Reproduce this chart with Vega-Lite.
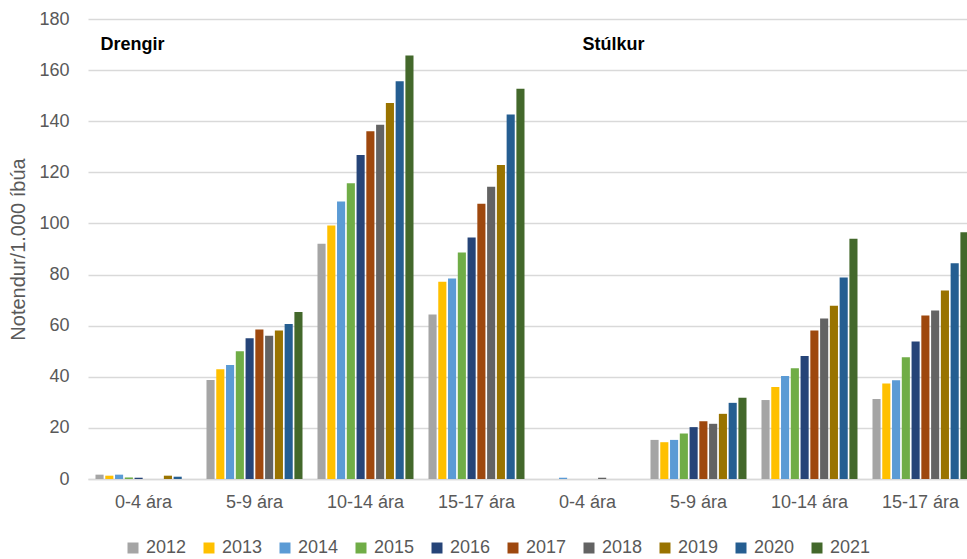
{
  "$schema": "https://vega.github.io/schema/vega-lite/v6.json",
  "autosize": "none",
  "width": 888,
  "height": 460,
  "padding": {"left": 88, "top": 19, "right": 0, "bottom": 80},
  "background": "white",
  "config": {
    "font": "Liberation Sans",
    "view": {"stroke": null}
  },
  "datasets": {
    "bars": [
      {"grp": "D|0-4 ára", "year": "2012", "val": 1.7},
      {"grp": "D|0-4 ára", "year": "2013", "val": 1.3},
      {"grp": "D|0-4 ára", "year": "2014", "val": 1.7},
      {"grp": "D|0-4 ára", "year": "2015", "val": 0.6},
      {"grp": "D|0-4 ára", "year": "2016", "val": 0.5},
      {"grp": "D|0-4 ára", "year": "2017", "val": 0},
      {"grp": "D|0-4 ára", "year": "2018", "val": 0},
      {"grp": "D|0-4 ára", "year": "2019", "val": 1.3},
      {"grp": "D|0-4 ára", "year": "2020", "val": 0.9},
      {"grp": "D|0-4 ára", "year": "2021", "val": 0},
      {"grp": "D|5-9 ára", "year": "2012", "val": 38.7},
      {"grp": "D|5-9 ára", "year": "2013", "val": 42.9},
      {"grp": "D|5-9 ára", "year": "2014", "val": 44.6},
      {"grp": "D|5-9 ára", "year": "2015", "val": 50.0},
      {"grp": "D|5-9 ára", "year": "2016", "val": 55.1},
      {"grp": "D|5-9 ára", "year": "2017", "val": 58.5},
      {"grp": "D|5-9 ára", "year": "2018", "val": 56.1},
      {"grp": "D|5-9 ára", "year": "2019", "val": 58.1},
      {"grp": "D|5-9 ára", "year": "2020", "val": 60.7},
      {"grp": "D|5-9 ára", "year": "2021", "val": 65.3},
      {"grp": "D|10-14 ára", "year": "2012", "val": 92.1},
      {"grp": "D|10-14 ára", "year": "2013", "val": 99.2},
      {"grp": "D|10-14 ára", "year": "2014", "val": 108.6},
      {"grp": "D|10-14 ára", "year": "2015", "val": 115.7},
      {"grp": "D|10-14 ára", "year": "2016", "val": 126.8},
      {"grp": "D|10-14 ára", "year": "2017", "val": 136.1},
      {"grp": "D|10-14 ára", "year": "2018", "val": 138.6},
      {"grp": "D|10-14 ára", "year": "2019", "val": 147.1},
      {"grp": "D|10-14 ára", "year": "2020", "val": 155.6},
      {"grp": "D|10-14 ára", "year": "2021", "val": 165.7},
      {"grp": "D|15-17 ára", "year": "2012", "val": 64.4},
      {"grp": "D|15-17 ára", "year": "2013", "val": 77.2},
      {"grp": "D|15-17 ára", "year": "2014", "val": 78.5},
      {"grp": "D|15-17 ára", "year": "2015", "val": 88.6},
      {"grp": "D|15-17 ára", "year": "2016", "val": 94.5},
      {"grp": "D|15-17 ára", "year": "2017", "val": 107.7},
      {"grp": "D|15-17 ára", "year": "2018", "val": 114.4},
      {"grp": "D|15-17 ára", "year": "2019", "val": 122.9},
      {"grp": "D|15-17 ára", "year": "2020", "val": 142.6},
      {"grp": "D|15-17 ára", "year": "2021", "val": 152.7},
      {"grp": "S|0-4 ára", "year": "2012", "val": 0},
      {"grp": "S|0-4 ára", "year": "2013", "val": 0},
      {"grp": "S|0-4 ára", "year": "2014", "val": 0.5},
      {"grp": "S|0-4 ára", "year": "2015", "val": 0},
      {"grp": "S|0-4 ára", "year": "2016", "val": 0},
      {"grp": "S|0-4 ára", "year": "2017", "val": 0},
      {"grp": "S|0-4 ára", "year": "2018", "val": 0.5},
      {"grp": "S|0-4 ára", "year": "2019", "val": 0},
      {"grp": "S|0-4 ára", "year": "2020", "val": 0},
      {"grp": "S|0-4 ára", "year": "2021", "val": 0},
      {"grp": "S|5-9 ára", "year": "2012", "val": 15.3},
      {"grp": "S|5-9 ára", "year": "2013", "val": 14.4},
      {"grp": "S|5-9 ára", "year": "2014", "val": 15.3},
      {"grp": "S|5-9 ára", "year": "2015", "val": 17.8},
      {"grp": "S|5-9 ára", "year": "2016", "val": 20.3},
      {"grp": "S|5-9 ára", "year": "2017", "val": 22.6},
      {"grp": "S|5-9 ára", "year": "2018", "val": 21.6},
      {"grp": "S|5-9 ára", "year": "2019", "val": 25.5},
      {"grp": "S|5-9 ára", "year": "2020", "val": 29.8},
      {"grp": "S|5-9 ára", "year": "2021", "val": 31.8},
      {"grp": "S|10-14 ára", "year": "2012", "val": 30.9},
      {"grp": "S|10-14 ára", "year": "2013", "val": 36.0},
      {"grp": "S|10-14 ára", "year": "2014", "val": 40.3},
      {"grp": "S|10-14 ára", "year": "2015", "val": 43.3},
      {"grp": "S|10-14 ára", "year": "2016", "val": 48.1},
      {"grp": "S|10-14 ára", "year": "2017", "val": 58.1},
      {"grp": "S|10-14 ára", "year": "2018", "val": 62.8},
      {"grp": "S|10-14 ára", "year": "2019", "val": 67.8},
      {"grp": "S|10-14 ára", "year": "2020", "val": 78.8},
      {"grp": "S|10-14 ára", "year": "2021", "val": 94.0},
      {"grp": "S|15-17 ára", "year": "2012", "val": 31.3},
      {"grp": "S|15-17 ára", "year": "2013", "val": 37.4},
      {"grp": "S|15-17 ára", "year": "2014", "val": 38.6},
      {"grp": "S|15-17 ára", "year": "2015", "val": 47.6},
      {"grp": "S|15-17 ára", "year": "2016", "val": 53.8},
      {"grp": "S|15-17 ára", "year": "2017", "val": 64.0},
      {"grp": "S|15-17 ára", "year": "2018", "val": 65.9},
      {"grp": "S|15-17 ára", "year": "2019", "val": 73.8},
      {"grp": "S|15-17 ára", "year": "2020", "val": 84.4},
      {"grp": "S|15-17 ára", "year": "2021", "val": 96.6}
    ],
    "notes": [
      {"label": "Drengir", "grp": "D|0-4 ára", "val": 170},
      {"label": "Stúlkur", "grp": "S|0-4 ára", "val": 170}
    ]
  },
  "layer": [
    {
      "data": {"name": "bars"},
      "mark": {"type": "bar"},
      "encoding": {
        "x": {
          "field": "grp",
          "type": "nominal",
          "sort": null,
          "scale": {
            "domain": ["D|0-4 ára", "D|5-9 ára", "D|10-14 ára", "D|15-17 ára", "S|0-4 ára", "S|5-9 ára", "S|10-14 ára", "S|15-17 ára"],
            "paddingInner": 0.135,
            "paddingOuter": 0.0675
          },
          "axis": {
            "title": null,
            "labelAngle": 0,
            "labelExpr": "split(datum.value, '|')[1]",
            "labelFontSize": 18,
            "labelColor": "#595959",
            "labelPadding": 14,
            "ticks": false,
            "domainColor": "#d9d9d9",
            "domainWidth": 1.5,
            "grid": false
          }
        },
        "xOffset": {
          "field": "year",
          "type": "nominal",
          "scale": {"paddingInner": 0.17, "paddingOuter": 0}
        },
        "y": {
          "field": "val",
          "type": "quantitative",
          "scale": {"domain": [0, 180], "nice": false},
          "axis": {
            "title": "Notendur/1.000 íbúa",
            "values": [0, 20, 40, 60, 80, 100, 120, 140, 160, 180],
            "labelFontSize": 18,
            "labelColor": "#595959",
            "labelPadding": 19,
            "ticks": false,
            "domain": false,
            "gridColor": "#d9d9d9",
            "gridWidth": 1.5,
            "titleFontSize": 20,
            "titleFontWeight": "normal",
            "titleColor": "#595959",
            "titleX": -70,
            "titleY": 230,
            "titleAngle": -90,
            "titleAlign": "center",
            "titleBaseline": "middle"
          }
        },
        "color": {
          "field": "year",
          "type": "nominal",
          "scale": {
            "domain": ["2012", "2013", "2014", "2015", "2016", "2017", "2018", "2019", "2020", "2021"],
            "range": ["#A5A5A5", "#FFC000", "#5B9BD5", "#70AD47", "#264478", "#9E480E", "#636363", "#997300", "#255E91", "#43682B"]
          },
          "legend": {
            "title": null,
            "orient": "none",
            "legendX": 36,
            "legendY": 520,
            "direction": "horizontal",
            "columns": 10,
            "symbolType": "square",
            "symbolSize": 121,
            "symbolStrokeWidth": 0,
            "labelFontSize": 18,
            "labelColor": "#595959",
            "labelOffset": 4,
            "columnPadding": 13
          }
        }
      }
    },
    {
      "data": {"name": "notes"},
      "transform": [{"filter": "datum.label == 'Drengir'"}],
      "mark": {"type": "text", "align": "left", "baseline": "middle", "fontSize": 18, "fontWeight": "bold", "color": "#000000", "dx": 5},
      "encoding": {
        "x": {"field": "grp", "type": "nominal", "bandPosition": 0, "sort": null},
        "y": {"field": "val", "type": "quantitative"},
        "text": {"field": "label"}
      }
    },
    {
      "data": {"name": "notes"},
      "transform": [{"filter": "datum.label == 'Stúlkur'"}],
      "mark": {"type": "text", "align": "left", "baseline": "middle", "fontSize": 18, "fontWeight": "bold", "color": "#000000", "dx": -5},
      "encoding": {
        "x": {"field": "grp", "type": "nominal", "bandPosition": 0.5, "sort": null},
        "y": {"field": "val", "type": "quantitative"},
        "text": {"field": "label"}
      }
    }
  ]
}
